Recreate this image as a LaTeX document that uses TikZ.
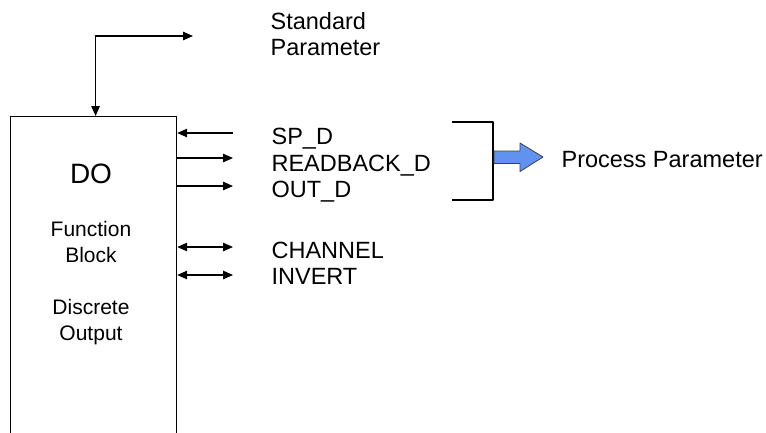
\documentclass[tikz,border=0pt]{standalone}
\usepackage{fontspec}
\setmainfont{Liberation Sans}
\usetikzlibrary{arrows.meta}
\definecolor{procblue}{RGB}{98,146,240}
\begin{document}
\begin{tikzpicture}[x=1pt,y=-1pt,line join=round,line width=1.2pt,>={Triangle[length=10pt,width=8.5pt]},
	lbl/.style={anchor=base west,inner sep=0pt,font=\fontsize{23.5}{28}\selectfont},
	inbox/.style={anchor=base,inner sep=0pt,font=\fontsize{21}{25}\selectfont}]
	
	\useasboundingbox (0,0) rectangle (766,432);
	\clip (0,0) rectangle (766,432);
	\def \arrx{233}
	
	% function block
	\node[draw,anchor=north west,inner sep=0pt,minimum width=166pt,minimum height=360pt] (do) at (10,116) {};
	\node[inbox,font=\fontsize{28}{32}\selectfont] (doname) at (91,183) {DO};
	\node[inbox] (fb1) at (91,236) {Function};
	\node[inbox] (fb2) at (91,262) {Block};
	\node[inbox] (fb3) at (91,314) {Discrete};
	\node[inbox] (fb4) at (91,340) {Output};
	
	% standard parameter
	\node[lbl] (std1) at (270,29) {Standard};
	\node[lbl] (std2) at (270,55) {Parameter};
	\coordinate (stdend) at (193,36);
	\draw[<->] (stdend) -| ([xshift=2pt]do.north);
	
	% parameters
	\node[lbl] (spd) at (271,144) {SP\_D};
	\node[lbl] (rbd) at (271,171) {READBACK\_D};
	\node[lbl] (outd) at (271,197) {OUT\_D};
	\node[lbl] (chan) at (271,258) {CHANNEL};
	\node[lbl] (inv) at (271,284) {INVERT};
	\coordinate (a1) at (\arrx,133);
	\coordinate (a2) at (\arrx,158);
	\coordinate (a3) at (\arrx,186);
	\coordinate (a4) at (\arrx,247);
	\coordinate (a5) at (\arrx,275);
	\draw[<-] (do.east |- a1) -- (a1);
	\draw[->] (do.east |- a2) -- (a2);
	\draw[->] (do.east |- a3) -- (a3);
	\draw[<->] (do.east |- a4) -- (a4);
	\draw[<->] (do.east |- a5) -- (a5);
	
	% process parameter
	\draw (452,122) -| (493,200) -- (452,200);
	\filldraw[fill=procblue,draw=black!75,line width=0.8pt] (494,151) -- (520,151) -- (520,143) -- (543,157) -- (520,171.5) -- (520,163.5) -- (494,163.5) -- cycle;
	\node[lbl] (proc) at (561,167) {Process Parameter};
	
\end{tikzpicture}
\end{document}
